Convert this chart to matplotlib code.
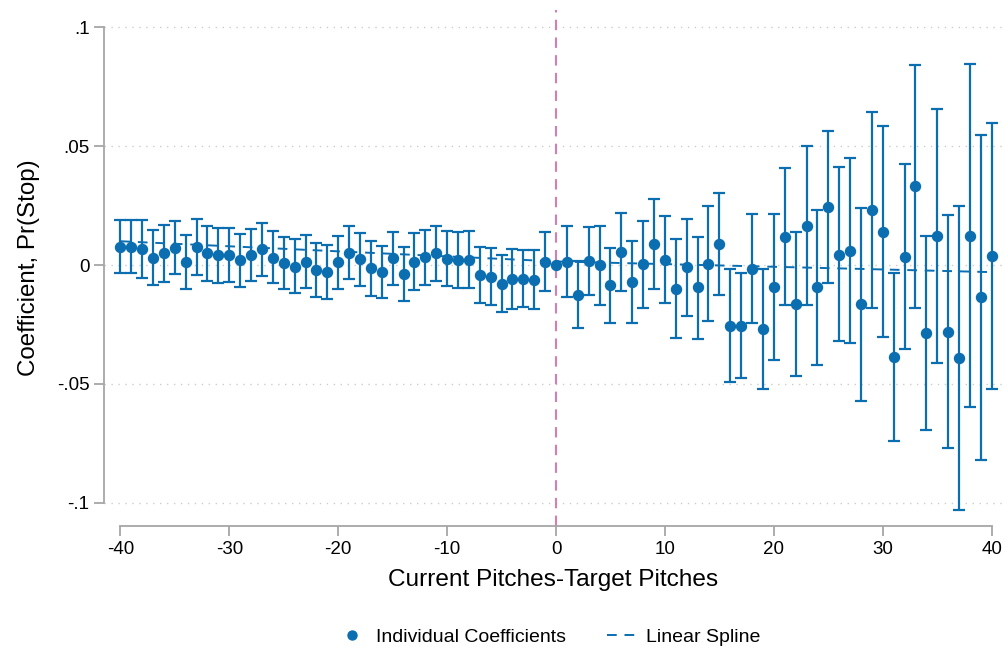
import numpy as np
import matplotlib
matplotlib.use("Agg")
import matplotlib.pyplot as plt

plt.rcParams['font.family'] = ['Liberation Sans', 'DejaVu Sans']
plt.rcParams['axes.unicode_minus'] = False

# event-time bins: current pitches minus target pitches
x = np.arange(-40, 41)

coef = [0.0077, 0.0076, 0.0066, 0.0029, 0.0049, 0.0073, 0.0011, 0.0076, 0.0049, 0.0041,
        0.0041, 0.0020, 0.0041, 0.0066, 0.0031, 0.0007, -0.0007, 0.0013, -0.0021, -0.0031,
        0.0011, 0.0050, 0.0024, -0.0014, -0.0029, 0.0028, -0.0037, 0.0014, 0.0032, 0.0049,
        0.0027, 0.0021, 0.0022, -0.0042, -0.0049, -0.0079, -0.0060, -0.0059, -0.0063, 0.0013,
        0.0,
        0.0014, -0.0125, 0.0016, -0.0001, -0.0085, 0.0053, -0.0070, 0.0003, 0.0088, 0.0022,
        -0.0101, -0.0010, -0.0094, 0.0005, 0.0088, -0.0255, -0.0255, -0.0016, -0.0269, -0.0094,
        0.0119, -0.0164, 0.0165, -0.0094, 0.0244, 0.0043, 0.0060, -0.0165, 0.0231, 0.0140,
        -0.0387, 0.0035, 0.0331, -0.0287, 0.0121, -0.0281, -0.0393, 0.0122, -0.0136, 0.0038]

ci_hi = [0.0189, 0.0189, 0.0189, 0.0147, 0.0170, 0.0184, 0.0126, 0.0194, 0.0165, 0.0157,
         0.0154, 0.0132, 0.0153, 0.0178, 0.0143, 0.0119, 0.0108, 0.0127, 0.0091, 0.0083,
         0.0122, 0.0164, 0.0133, 0.0101, 0.0080, 0.0139, 0.0076, 0.0136, 0.0147, 0.0165,
         0.0142, 0.0139, 0.0143, 0.0077, 0.0070, 0.0043, 0.0066, 0.0063, 0.0063, 0.0139,
         np.nan,
         0.0164, 0.0018, 0.0160, 0.0165, 0.0070, 0.0217, 0.0102, 0.0186, 0.0276, 0.0207,
         0.0108, 0.0194, 0.0119, 0.0247, 0.0303, -0.0018, -0.0035, 0.0215, -0.0016, 0.0213,
         0.0407, 0.0140, 0.0501, 0.0231, 0.0564, 0.0411, 0.0449, 0.0239, 0.0644, 0.0585,
         -0.0032, 0.0425, 0.0843, 0.0122, 0.0656, 0.0209, 0.0248, 0.0844, 0.0548, 0.0596]

ci_lo = [-0.0035, -0.0035, -0.0055, -0.0085, -0.0070, -0.0038, -0.0102, -0.0042, -0.0066, -0.0074,
         -0.0070, -0.0091, -0.0067, -0.0048, -0.0077, -0.0102, -0.0119, -0.0097, -0.0133, -0.0144,
         -0.0101, -0.0060, -0.0088, -0.0129, -0.0139, -0.0083, -0.0150, -0.0106, -0.0083, -0.0067,
         -0.0088, -0.0098, -0.0095, -0.0159, -0.0168, -0.0198, -0.0185, -0.0178, -0.0186, -0.0111,
         np.nan,
         -0.0133, -0.0266, -0.0126, -0.0168, -0.0243, -0.0111, -0.0243, -0.0180, -0.0100, -0.0160,
         -0.0307, -0.0215, -0.0310, -0.0236, -0.0125, -0.0492, -0.0475, -0.0245, -0.0522, -0.0401,
         -0.0168, -0.0468, -0.0168, -0.0419, -0.0076, -0.0321, -0.0327, -0.0571, -0.0181, -0.0304,
         -0.0740, -0.0353, -0.0181, -0.0695, -0.0414, -0.0770, -0.1031, -0.0597, -0.0822, -0.0520]

# linear spline with a knot at 0
spline_x = [-40, 0, 40]
spline_y = [0.0100, 0.0015, -0.0030]

coef = np.array(coef)
ci_hi = np.array(ci_hi)
ci_lo = np.array(ci_lo)

blue = '#0a6eb0'
pink = '#d37fb2'
grey = '#a6a6a6'

fig = plt.figure(figsize=(10.05, 6.52), dpi=100)
ax = fig.add_axes([0.1035, 0.1933, 0.8945, 0.7914])

ax.set_xlim(-41.5, 41.04)
ax.set_ylim(-0.1098, 0.1073)

for yv in [-0.1, -0.05, 0, 0.05, 0.1]:
    ax.axhline(yv, color='#cccccc', lw=1.0, ls=(0, (1, 4)), zorder=0)

ax.axvline(0, color=pink, lw=1.5, ls=(0, (5, 3.5)), zorder=1)

m = ~np.isnan(ci_hi)
mid = (ci_hi[m] + ci_lo[m]) / 2
ax.errorbar(x[m], mid, yerr=(ci_hi[m] - ci_lo[m]) / 2, fmt='none', ecolor=blue,
            elinewidth=1.6, capsize=4, capthick=1.6, zorder=2)

line, = ax.plot(spline_x, spline_y, color=blue, lw=1.4, ls=(0, (5, 4)), zorder=3,
                label='Linear Spline')
dots, = ax.plot(x, coef, 'o', color=blue, ms=7.2, zorder=4,
                label='Individual Coefficients')

ax.set_xticks([-40, -30, -20, -10, 0, 10, 20, 30, 40])
ax.set_yticks([-0.1, -0.05, 0, 0.05, 0.1])
ax.set_yticklabels(['-.1', '-.05', '0', '.05', '.1'])

for s in ['top', 'right']:
    ax.spines[s].set_visible(False)
ax.spines['left'].set_bounds(-0.1, 0.1)
ax.spines['bottom'].set_bounds(-40, 40)
for s in ['left', 'bottom']:
    ax.spines[s].set_color(grey)
    ax.spines[s].set_linewidth(1.3)
ax.tick_params(axis='both', colors=grey, width=1.3, length=7, labelsize=13.5,
               labelcolor='black')

ax.set_xlabel('Current Pitches-Target Pitches', fontsize=17.6, labelpad=8)
ax.set_ylabel('Coefficient, Pr(Stop)', fontsize=17.4, labelpad=12)

fig.legend(handles=[dots, line], loc='center', bbox_to_anchor=(0.546, 0.023), ncol=2,
           frameon=False, fontsize=14, handlelength=1.5, columnspacing=2.1,
           handletextpad=0.5, markerscale=0.9)

fig.savefig('out.png', dpi=100)
